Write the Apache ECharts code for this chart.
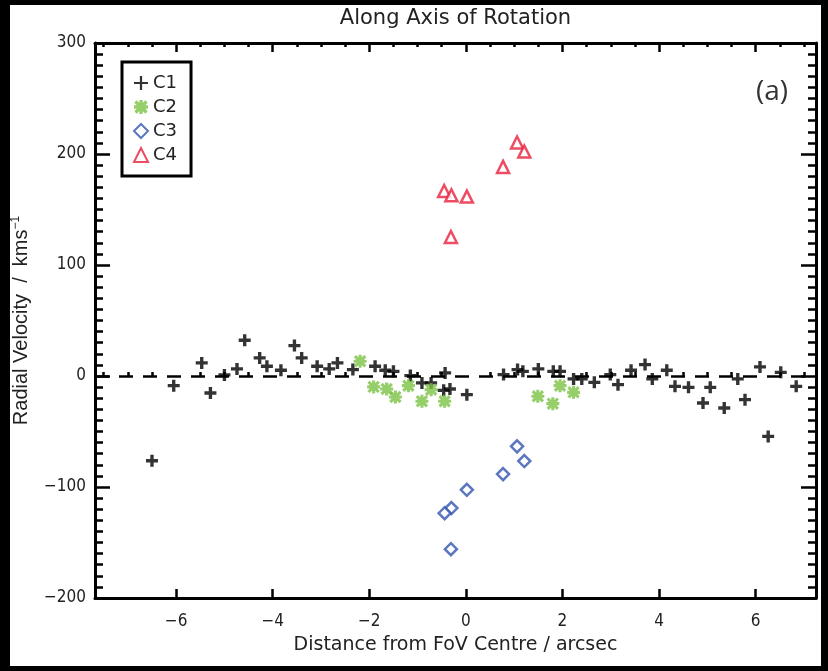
<!DOCTYPE html>
<html>
<head>
<meta charset="utf-8">
<script src="https://cdn.jsdelivr.net/npm/echarts@6/dist/echarts.min.js"></script>
<style>
html,body{margin:0;padding:0;background:#fff;}
#chart{width:828px;height:671px;}
</style>
</head>
<body>
<div id="chart"></div>
<script>
// ---- data ----
const xTickLabels = [-6, -4, -2, 0, 2, 4, 6];
const xMinorTicks = [-7.5, -7, -6.5, -5.5, -5, -4.5, -3.5, -3, -2.5, -1.5, -1, -0.5, 0.5, 1, 1.5, 2.5, 3, 3.5, 4.5, 5, 5.5, 6.5, 7];
const yTickLabels = [-200, -100, 0, 100, 200, 300];

const c1 = [[-6.50,-76.4],[-6.05,-8.7],[-5.47,11.8],[-5.29,-15.3],[-5.00,1.0],[-4.74,6.4],[-4.58,32.2],[-4.27,16.3],[-4.12,8.8],[-3.83,5.2],[-3.55,27.4],[-3.40,16.3],[-3.08,8.8],[-2.83,6.4],[-2.66,11.8],[-2.34,5.8],[-1.88,8.8],[-1.67,5.2],[-1.50,4.2],[-1.15,0.4],[-0.91,-6.2],[-0.72,-6.2],[-0.43,2.8],[-0.46,-12.9],[-0.33,-11.7],[0.02,-16.8],[0.78,1.3],[1.07,5.8],[1.18,4.2],[1.50,6.4],[1.81,4.2],[1.95,4.2],[2.23,-2.6],[2.40,-2.6],[2.66,-5.7],[2.99,1.3],[3.15,-7.8],[3.42,5.2],[3.71,10.3],[3.86,-2.6],[4.16,5.2],[4.33,-9.3],[4.61,-10.2],[4.91,-24.3],[5.06,-10.2],[5.35,-28.8],[5.63,-2.6],[5.78,-21.3],[6.09,8.2],[6.26,-54.4],[6.52,3.3],[6.84,-9.3]];
const c2 = [[-2.19,13.3],[-1.91,-9.8],[-1.64,-11.7],[-1.46,-18.9],[-1.19,-8.7],[-0.91,-22.8],[-0.72,-12.3],[-0.44,-22.8],[1.49,-18.3],[1.80,-24.9],[1.95,-8.7],[2.23,-14.7]];
const c3 = [[1.06,-63.4],[1.21,-76.6],[0.77,-88.4],[0.02,-102.5],[-0.30,-119.0],[-0.44,-123.6],[-0.31,-156.0]];
const c4 = [[1.06,210.4],[1.21,202.3],[0.77,188.4],[-0.45,166.7],[-0.30,162.8],[0.02,161.6],[-0.31,125.2]];

// ---- styling ----
const FONT = "'DejaVu Sans Condensed','Liberation Sans Narrow','DejaVu Sans',sans-serif";
const WFONT = "'DejaVu Sans','Liberation Sans',sans-serif";
const TXT = '#222';
const plusPath = 'path://M-1.4,-5 L1.4,-5 L1.4,-1.4 L5,-1.4 L5,1.4 L1.4,1.4 L1.4,5 L-1.4,5 L-1.4,1.4 L-5,1.4 L-5,-1.4 L-1.4,-1.4 Z';
const thinPlusPath = 'path://M-0.8,-5 L0.8,-5 L0.8,-0.8 L5,-0.8 L5,0.8 L0.8,0.8 L0.8,5 L-0.8,5 L-0.8,0.8 L-5,0.8 L-5,-0.8 L-0.8,-0.8 Z';
const starPath = 'path://M-1.2,-5 L1.2,-5 L1.2,5 L-1.2,5 Z M-5,-1.2 L5,-1.2 L5,1.2 L-5,1.2 Z M-3.1,-4.8 L4.8,3.1 L3.1,4.8 L-4.8,-3.1 Z M3.1,-4.8 L4.8,-3.1 L-3.1,4.8 L-4.8,3.1 Z';

const grid = {left: 95, right: 12, top: 43, bottom: 73};
const X_MIN = -7.68, X_MAX = 7.25;

const chart = echarts.init(document.getElementById('chart'));
chart.setOption({
  backgroundColor: '#fff',
  animation: false,
  grid: [Object.assign({}, grid), Object.assign({}, grid)],
  xAxis: [
    { // bottom, major ticks + labels
      type: 'value', gridIndex: 0, position: 'bottom', min: X_MIN, max: X_MAX,
      name: 'Distance from FoV Centre / arcsec', nameLocation: 'middle', nameGap: 38,
      nameTextStyle: {fontFamily: WFONT, fontSize: 19, color: TXT},
      axisLine: {show: true, onZero: false, lineStyle: {color: '#000', width: 3}},
      axisTick: {show: true, inside: true, length: 9, lineStyle: {color: '#000', width: 2.5}, customValues: xTickLabels},
      axisLabel: {show: true, margin: 15, fontFamily: FONT, fontSize: 17, color: TXT, customValues: xTickLabels,
        formatter: v => String(v).replace('-', '\u2212')},
      splitLine: {show: false}
    },
    { // top, major ticks + title
      type: 'value', gridIndex: 0, position: 'top', min: X_MIN, max: X_MAX,
      name: 'Along Axis of Rotation', nameLocation: 'middle', nameGap: 14,
      nameTextStyle: {fontFamily: WFONT, fontSize: 21, color: TXT},
      axisLine: {show: true, onZero: false, lineStyle: {color: '#000', width: 3}},
      axisTick: {show: true, inside: true, length: 9, lineStyle: {color: '#000', width: 2.5}, customValues: xTickLabels},
      axisLabel: {show: false},
      splitLine: {show: false}
    },
    { // bottom minor ticks
      type: 'value', gridIndex: 1, position: 'bottom', min: X_MIN, max: X_MAX,
      axisLine: {show: false},
      axisTick: {show: true, inside: true, length: 4, lineStyle: {color: '#000', width: 2.5}, customValues: xMinorTicks},
      axisLabel: {show: false}, splitLine: {show: false}
    },
    { // top minor ticks
      type: 'value', gridIndex: 1, position: 'top', min: X_MIN, max: X_MAX,
      axisLine: {show: false},
      axisTick: {show: true, inside: true, length: 4, lineStyle: {color: '#000', width: 2.5}, customValues: xMinorTicks},
      axisLabel: {show: false}, splitLine: {show: false}
    }
  ],
  yAxis: [
    {
      type: 'value', gridIndex: 0, position: 'left', min: -200, max: 300, interval: 100,
      name: 'Radial Velocity  /  kms{sup|\u22121}', nameLocation: 'middle', nameGap: 63, nameRotate: 90,
      nameTextStyle: {fontFamily: "'Liberation Sans','DejaVu Sans',sans-serif", fontSize: 20, color: TXT,
        rich: {sup: {fontFamily: "'Liberation Sans',sans-serif", fontSize: 12, color: TXT, verticalAlign: 'top', padding: [0,0,10,0]}}},
      axisLine: {show: true, onZero: false, lineStyle: {color: '#000', width: 3}},
      axisTick: {show: true, inside: true, length: 15, lineStyle: {color: '#000', width: 2.5}},
      minorTick: {show: true, splitNumber: 10, length: 8, lineStyle: {color: '#000', width: 2.5}},
      axisLabel: {show: true, margin: 9, fontFamily: FONT, fontSize: 17, color: TXT,
        customValues: yTickLabels, formatter: v => String(v).replace('-', '\u2212')},
      splitLine: {show: false}
    },
    {
      type: 'value', gridIndex: 0, position: 'right', min: -200, max: 300, interval: 100,
      axisLine: {show: true, onZero: false, lineStyle: {color: '#000', width: 3}},
      axisTick: {show: true, inside: true, length: 15, lineStyle: {color: '#000', width: 2.5}},
      minorTick: {show: true, splitNumber: 10, length: 8, lineStyle: {color: '#000', width: 2.5}},
      axisLabel: {show: false}, splitLine: {show: false}
    },
    {
      type: 'value', gridIndex: 1, show: false, min: -200, max: 300
    }
  ],
  legend: {
    left: 122, top: 62, orient: 'vertical',
    padding: [12, 14, 12, 11], itemGap: 6, itemWidth: 14, itemHeight: 14,
    borderColor: '#000', borderWidth: 3, backgroundColor: '#fff',
    textStyle: {fontFamily: WFONT, fontSize: 18, color: TXT},
    data: [{name: 'C1', icon: thinPlusPath}, 'C2', 'C3', 'C4']
  },
  graphic: [
    {type: 'text', right: 40, top: 78, style: {text: '(a)', fontFamily: "'Open Sans','DejaVu Sans',sans-serif", fontSize: 28, fill: '#333'}},
    {type: 'rect', left: 0, top: 0, shape: {width: 10, height: 671}, style: {fill: '#000'}},
    {type: 'rect', left: 0, top: 0, shape: {width: 828, height: 5}, style: {fill: '#000'}},
    {type: 'rect', right: 0, top: 0, shape: {width: 7, height: 671}, style: {fill: '#000'}},
    {type: 'rect', left: 0, bottom: 0, shape: {width: 828, height: 5}, style: {fill: '#000'}}
  ],
  series: [
    {
      name: 'C1', type: 'scatter', xAxisIndex: 0, yAxisIndex: 0, data: c1,
      symbol: plusPath, symbolSize: 12, itemStyle: {color: '#000'}, z: 3,
      markLine: {
        silent: true, symbol: 'none', label: {show: false},
        lineStyle: {color: '#000', width: 2.5, type: [14, 10]},
        data: [{yAxis: 0}], z: 2
      }
    },
    {
      name: 'C2', type: 'scatter', xAxisIndex: 0, yAxisIndex: 0, data: c2,
      symbol: starPath, symbolSize: 13, itemStyle: {color: '#7cc245'}, z: 4
    },
    {
      name: 'C3', type: 'scatter', xAxisIndex: 0, yAxisIndex: 0, data: c3,
      symbol: 'diamond', symbolSize: 12, itemStyle: {color: '#fff', borderColor: '#3355b0', borderWidth: 2.5}, z: 4
    },
    {
      name: 'C4', type: 'scatter', xAxisIndex: 0, yAxisIndex: 0, data: c4,
      symbol: 'triangle', symbolSize: 12, itemStyle: {color: '#fff', borderColor: '#e8203c', borderWidth: 2.5}, z: 4
    }
  ]
});
</script>
</body>
</html>
